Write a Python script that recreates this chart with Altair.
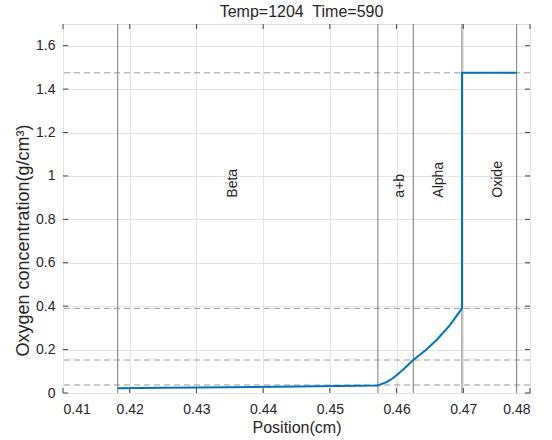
import altair as alt
import pandas as pd

# Oxygen concentration profile
curve_x = [0.4182, 0.425, 0.435, 0.445, 0.4572, 0.4585, 0.4595, 0.461, 0.4625, 0.4643, 0.466, 0.468, 0.4698, 0.4698, 0.478]
curve_y = [0.022, 0.024, 0.027, 0.030, 0.035, 0.050, 0.069, 0.108, 0.152, 0.196, 0.244, 0.313, 0.390, 1.475, 1.475]

# phase boundaries (vertical lines)
boundaries = [0.4182, 0.4572, 0.4625, 0.4698, 0.478]
# reference concentration levels (dashed horizontal lines)
levels = [1.475, 0.39, 0.152, 0.037]

# phase labels
phase_names = ["Beta", "a+b", "Alpha", "Oxide"]
phase_x = [0.4355, 0.4605, 0.4664, 0.4752]
phase_y = [0.9, 0.9, 0.9, 0.9]

x_ticks = [0.41, 0.42, 0.43, 0.44, 0.45, 0.46, 0.47, 0.48]
y_ticks = [0, 0.2, 0.4, 0.6, 0.8, 1.0, 1.2, 1.4, 1.6]

FONT = "Liberation Sans"
W, H = 467, 369
TICK = 5

curve_df = pd.DataFrame({"x": curve_x, "y": curve_y, "order": list(range(len(curve_x)))})
bound_df = pd.DataFrame({"x": boundaries})
level_df = pd.DataFrame({"y": levels})
label_df = pd.DataFrame({"name": phase_names, "x": phase_x, "y": phase_y})
xt_df = pd.DataFrame({"x": x_ticks})
yt_df = pd.DataFrame({"y": y_ticks})

xscale = alt.Scale(domain=[0.41, 0.48], nice=False, zero=False)
yscale = alt.Scale(domain=[0, 1.7], nice=False)

xaxis = alt.Axis(values=x_ticks, format=".2f", title="Position(cm)", grid=True,
                 gridColor="#e3e3e3", domain=False, ticks=False,
                 labelFont=FONT, labelFontSize=14, labelColor="#262626", labelPadding=9,
                 titleFont=FONT, titleFontSize=16, titleFontWeight="normal", titleColor="#262626",
                 titlePadding=3)
yaxis = alt.Axis(values=y_ticks, format="~g", title="Oxygen concentration(g/cm³)", grid=True,
                 gridColor="#e3e3e3", domain=False, ticks=False,
                 labelFont=FONT, labelFontSize=14, labelColor="#262626", labelPadding=8,
                 titleFont=FONT, titleFontSize=18, titleFontWeight="normal", titleColor="#262626",
                 titleX=-31, titleY=216)

levels_layer = alt.Chart(level_df).mark_rule(color="#9a9a9a", strokeDash=[6, 4], strokeWidth=1).encode(
    y=alt.Y("y:Q", scale=yscale, axis=yaxis),
)

bounds_layer = alt.Chart(bound_df).mark_rule(color="#7a7a7a", strokeWidth=1).encode(
    x=alt.X("x:Q", scale=xscale, axis=xaxis),
)

# inward tick marks on all four sides
xt_bottom = alt.Chart(xt_df).mark_rule(color="#444", strokeWidth=1).encode(
    x=alt.X("x:Q", scale=xscale), y=alt.value(H), y2=alt.value(H - TICK))
xt_top = alt.Chart(xt_df).mark_rule(color="#444", strokeWidth=1).encode(
    x=alt.X("x:Q", scale=xscale), y=alt.value(0), y2=alt.value(TICK))
yt_left = alt.Chart(yt_df).mark_rule(color="#444", strokeWidth=1).encode(
    y=alt.Y("y:Q", scale=yscale), x=alt.value(0), x2=alt.value(TICK))
yt_right = alt.Chart(yt_df).mark_rule(color="#444", strokeWidth=1).encode(
    y=alt.Y("y:Q", scale=yscale), x=alt.value(W), x2=alt.value(W - TICK))

curve_layer = alt.Chart(curve_df).mark_line(color="#0072BD", strokeWidth=2).encode(
    x=alt.X("x:Q", scale=xscale),
    y=alt.Y("y:Q", scale=yscale),
    order="order:Q",
)

text_layer = alt.Chart(label_df).mark_text(angle=270, align="left", baseline="middle",
                                           font=FONT, fontSize=14, color="#262626").encode(
    x=alt.X("x:Q", scale=xscale),
    y=alt.Y("y:Q", scale=yscale),
    text="name:N",
)

chart = alt.layer(levels_layer, bounds_layer, xt_bottom, xt_top, yt_left, yt_right,
                  curve_layer, text_layer).properties(
    width=W,
    height=H,
    title=alt.Title("Temp=1204\u00a0 Time=590", font=FONT, fontSize=16, fontWeight="normal",
                    color="#262626", offset=4, dx=5),
    autosize=alt.AutoSizeParams(type="none"),
    padding={"left": 63, "top": 24, "right": 22, "bottom": 47},
).configure_view(stroke="#444", strokeWidth=1).configure(background="white")

chart.save("out.html", embed_options={"renderer": "svg", "actions": False})
